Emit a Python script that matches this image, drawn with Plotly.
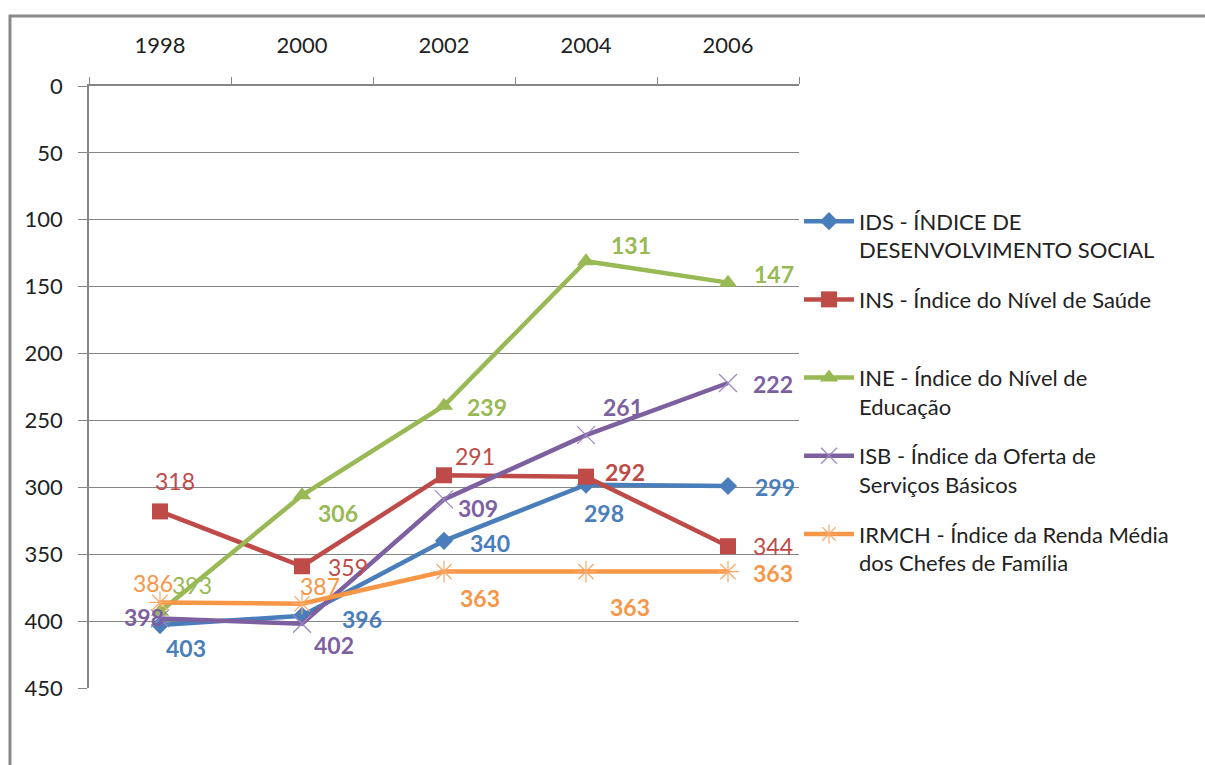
import plotly.graph_objects as go

# Years on the category axis
years = ["1998", "2000", "2002", "2004", "2006"]

# Ranking of each index per year (lower is better, axis is reversed)
ids_vals = [403, 396, 340, 298, 299]
ins_vals = [318, 359, 291, 292, 344]
ine_vals = [393, 306, 239, 131, 147]
isb_vals = [398, 402, 309, 261, 222]
irmch_vals = [386, 387, 363, 363, 363]

series_names = [
    "IDS - ÍNDICE DE<br>DESENVOLVIMENTO SOCIAL",
    "INS - Índice do Nível de Saúde<br> ",
    "INE - Índice do Nível de<br>Educação",
    "ISB - Índice da Oferta de<br>Serviços Básicos",
    "IRMCH - Índice da Renda Média<br>dos Chefes de Família",
]
series_values = [ids_vals, ins_vals, ine_vals, isb_vals, irmch_vals]

y_ticks = [0, 50, 100, 150, 200, 250, 300, 350, 400, 450]

# Styling per series
colors = ["#4A7EBB", "#BE4B48", "#98B954", "#7D60A0", "#F79646"]
marker_colors = ["#4A7EBB", "#BE4B48", "#98B954", "#9B87C0", "#F9A868"]
symbols = ["diamond", "square", "triangle-up", "x-thin-open", "asterisk-open"]
marker_sizes = [14, 16, 16, 18, 18]
marker_line_widths = [0, 0, 0, 1.2, 1.2]

# Label offsets in pixels (dx right, dy down) relative to each point
label_offsets = [
    [(26, 23), (60, 3), (46, 2), (18, 28), (47, 1)],
    [(15, -30), (46, 1), (31, -19), (39, -5), (45, 0)],
    [(32, -27), (36, 18), (43, 1), (45, -16), (46, -9)],
    [(-16, -1), (32, 21), (34, 9), (37, -28), (45, 1)],
    [(-7, -19), (18, -18), (36, 26), (44, 35), (45, 1)],
]
label_bold = [
    [True] * 5,
    [False, False, False, True, False],
    [False, True, True, True, True],
    [True] * 5,
    [False, False, True, True, True],
]

FONT = "Lato, Open Sans, sans-serif"

fig = go.Figure()
for i, (name, vals) in enumerate(zip(series_names, series_values)):
    fig.add_trace(go.Scatter(
        x=years, y=vals, name=name, mode="lines+markers",
        legendgroup=f"g{i}",
        line=dict(color=colors[i], width=4.5),
        marker=dict(symbol=symbols[i], size=marker_sizes[i],
                    color=marker_colors[i],
                    line=dict(color=marker_colors[i], width=marker_line_widths[i])),
    ))

annotations = []
for i, vals in enumerate(series_values):
    for j, v in enumerate(vals):
        dx, dy = label_offsets[i][j]
        txt = f"<b>{v}</b>" if label_bold[i][j] else str(v)
        annotations.append(dict(
            x=j, y=v, xref="x", yref="y", text=txt, showarrow=False,
            xshift=dx, yshift=-dy,
            font=dict(family=FONT, size=23, color=colors[i]),
        ))

# Outer chart frame (left and top edges)
shapes = [dict(
    type="path", xref="paper", yref="paper",
    path="M -0.1113 -0.2 L -0.1113 1.1163 L 1.7 1.1163",
    line=dict(color="#8A8A8A", width=3),
)]

fig.update_layout(
    width=1205, height=765,
    margin=dict(l=89, r=406, t=86, b=77),
    paper_bgcolor="white", plot_bgcolor="white",
    font=dict(family=FONT, size=22, color="#222222"),
    showlegend=True,
    legend=dict(
        x=1.0, xanchor="left", y=0.81, yanchor="top",
        font=dict(family=FONT, size=22, color="#222222"),
        valign="top", tracegroupgap=18, itemwidth=50,
        bgcolor="rgba(0,0,0,0)",
    ),
    annotations=annotations,
    shapes=shapes,
)
fig.update_xaxes(
    type="category", side="top", tickson="boundaries",
    showgrid=False, showline=True, linecolor="#868686", linewidth=1.5,
    ticks="outside", ticklen=7, tickcolor="#868686",
    ticklabelstandoff=22, tickfont=dict(family=FONT, size=22, color="#222222"),
    range=[-0.5, 4.5],
)
fig.update_yaxes(
    range=[450, 0], tickvals=y_ticks,
    showgrid=True, gridcolor="#868686", gridwidth=1.2,
    showline=True, linecolor="#868686", linewidth=1.5,
    zeroline=False,
    ticks="outside", ticklen=9, tickcolor="#868686",
    ticklabelstandoff=11, tickfont=dict(family=FONT, size=22, color="#222222"),
)

fig.write_html("out.html")
